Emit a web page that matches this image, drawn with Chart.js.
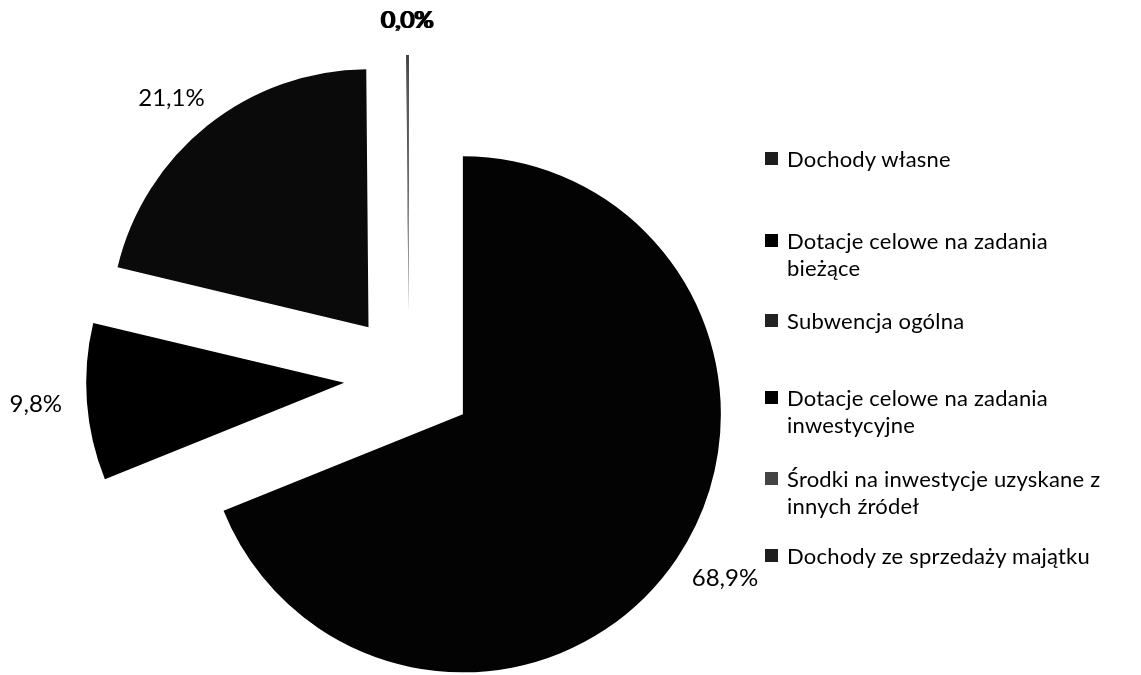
<!DOCTYPE html>
<html>
<head>
<meta charset="utf-8">
<script src="https://cdn.jsdelivr.net/npm/chart.js@4/dist/chart.umd.min.js"></script>
<style>
  html, body { margin: 0; padding: 0; background: #ffffff; }
  #wrap { position: relative; width: 1141px; height: 675px; overflow: hidden; }
  #chart { position: absolute; left: 0; top: 0; }
  .lg { position: absolute; left: 765px; font-family: Lato, "Open Sans", sans-serif; font-size: 22px; line-height: 27px; letter-spacing: 0.2px; color: #000; }
  .lg .sw { position: absolute; left: 0; top: 7px; width: 13px; height: 13px; }
  .lg .tx { margin-left: 22px; width: 335px; }
</style>
</head>
<body>
<div id="wrap">
  <canvas id="chart" width="1141" height="675"></canvas>
</div>
<script>
// ---- data ----
const categories = [
  'Dochody własne',
  'Dotacje celowe na zadania bieżące',
  'Subwencja ogólna',
  'Dotacje celowe na zadania inwestycyjne',
  'Środki na inwestycje uzyskane z innych źródeł',
  'Dochody ze sprzedaży majątku'
];
const shares = [68.93, 9.83, 21.14, 0.049, 0.045, 0.045];
const sliceColors = ['#030303', '#000000', '#0a0a0a', '#000000', '#000000', '#000000'];
const legendSwatchColors = ['#1e1e1e', '#000000', '#222222', '#000000', '#444444', '#1e1e1e'];

// ---- layout / style constants ----
const EXPLODE = 65;        // px each slice is pulled out from the common centre
const PIE_RADIUS = 258;
const LABEL_GAP = 25;
const legendTops = [158, 240, 320, 397, 478, 555]; // centre of first legend line

const total = shares.reduce((a, b) => a + b, 0);
const fmt = v => (v / total * 100).toFixed(1).replace('.', ',') + '%';

const explodePlugin = {
  id: 'explode',
  beforeDatasetDraw(chart, args) {
    const ctx = chart.ctx;
    args.meta.data.forEach(arc => {
      const mid = (arc.startAngle + arc.endAngle) / 2;
      ctx.save();
      ctx.translate(Math.cos(mid) * EXPLODE, Math.sin(mid) * EXPLODE);
      arc.draw(ctx);
      ctx.restore();
    });
    return false;
  }
};

const labelPlugin = {
  id: 'outLabels',
  afterDatasetsDraw(chart) {
    const ctx = chart.ctx;
    const meta = chart.getDatasetMeta(0);
    ctx.save();
    ctx.font = '24px Lato, "Open Sans", sans-serif';
    ctx.fillStyle = '#000';
    ctx.textAlign = 'center';
    ctx.textBaseline = 'middle';
    meta.data.forEach((arc, i) => {
      const mid = (arc.startAngle + arc.endAngle) / 2;
      const dx = Math.cos(mid), dy = Math.sin(mid);
      const r = arc.outerRadius + EXPLODE + LABEL_GAP;
      const text = fmt(shares[i]);
      const w = ctx.measureText(text).width;
      const h = 20;
      const x = arc.x + dx * r + dx * w / 2;
      const y = arc.y + dy * r + dy * h / 2;
      ctx.fillText(text, x, y);
    });
    ctx.restore();
  }
};

new Chart(document.getElementById('chart'), {
  type: 'pie',
  data: {
    labels: categories,
    datasets: [{
      data: shares,
      backgroundColor: sliceColors,
      borderWidth: 0,
      radius: PIE_RADIUS,
      clip: false
    }]
  },
  options: {
    responsive: false,
    animation: false,
    layout: { padding: { left: 0, right: 323, top: 81, bottom: 0 } },
    plugins: {
      legend: { display: false },
      tooltip: { enabled: false }
    }
  },
  plugins: [explodePlugin, labelPlugin]
});

// ---- legend (HTML) ----
const wrap = document.getElementById('wrap');
categories.forEach((name, i) => {
  const d = document.createElement('div');
  d.className = 'lg';
  d.style.top = (legendTops[i] - 13.5) + 'px';
  const sw = document.createElement('div');
  sw.className = 'sw';
  sw.style.background = legendSwatchColors[i];
  const tx = document.createElement('div');
  tx.className = 'tx';
  tx.textContent = name;
  d.appendChild(sw);
  d.appendChild(tx);
  wrap.appendChild(d);
});
</script>
</body>
</html>
